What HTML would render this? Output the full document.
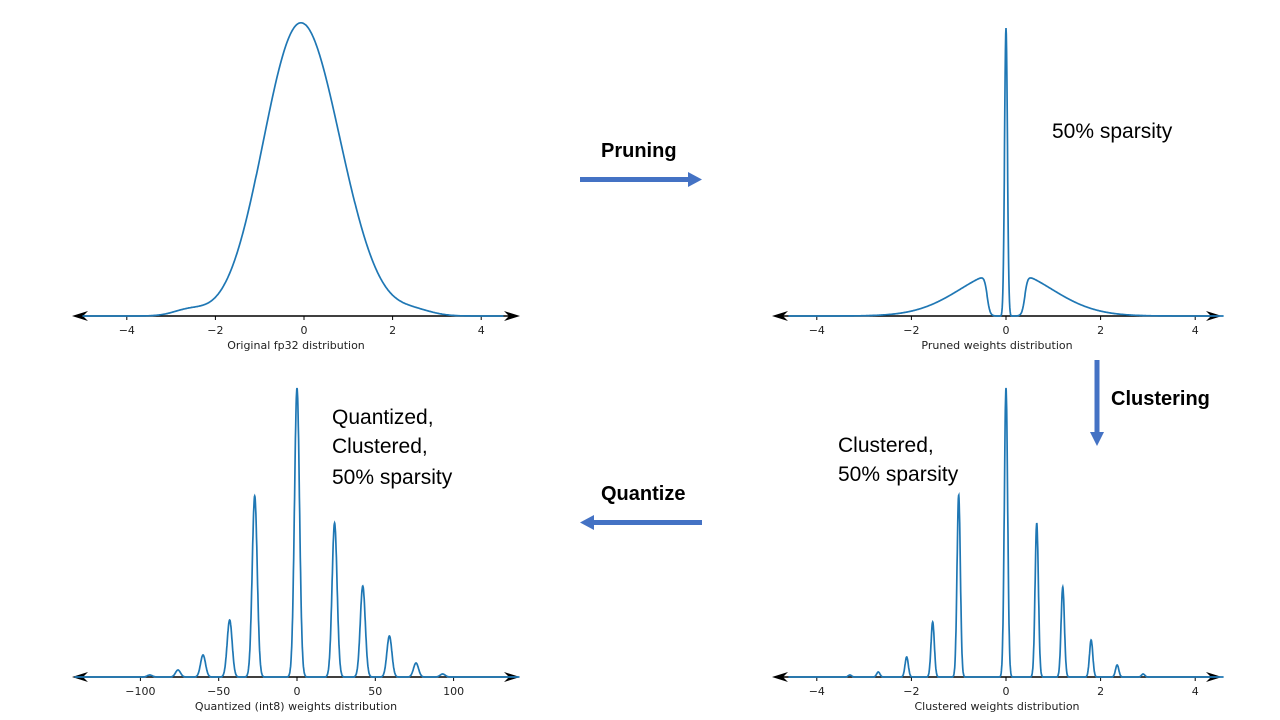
<!DOCTYPE html>
<html><head><meta charset="utf-8"><style>
html,body{margin:0;padding:0;background:#fff;width:1280px;height:720px;overflow:hidden}
svg{display:block}
text{font-family:"DejaVu Sans",sans-serif}
.t{font-family:"Liberation Sans",sans-serif;font-size:21px;fill:#000}
.b{font-family:"Liberation Sans",sans-serif;font-size:20px;font-weight:bold;fill:#000}
.tk{font-size:11px;fill:#222;text-anchor:middle}
</style></head><body>
<svg id="s" width="1280" height="720" xmlns="http://www.w3.org/2000/svg">
<g id="axes"></g>
<g id="curves" fill="none" stroke="#1f77b4" stroke-width="1.7"></g>
<text class="b" x="601" y="157">Pruning</text>
<rect x="580" y="177" width="110" height="5" fill="#4472C4"/>
<polygon points="688,172 702,179.5 688,187" fill="#4472C4"/>
<text class="b" x="601" y="500">Quantize</text>
<rect x="592" y="520" width="110" height="5" fill="#4472C4"/>
<polygon points="594,515 580,522.5 594,530" fill="#4472C4"/>
<text class="b" x="1111" y="405">Clustering</text>
<rect x="1094.5" y="360" width="5" height="74" fill="#4472C4"/>
<polygon points="1090,432 1104,432 1097,446" fill="#4472C4"/>
<text class="t" x="1052" y="138">50% sparsity</text>
<text class="t" x="332" y="424">Quantized,</text>
<text class="t" x="332" y="453">Clustered,</text>
<text class="t" x="332" y="484">50% sparsity</text>
<text class="t" x="838" y="452">Clustered,</text>
<text class="t" x="838" y="481">50% sparsity</text>
</svg>
<script>
var ax=document.getElementById('axes'),cv=document.getElementById('curves');
function axis(x0,x1,y,ticks,x2p,label){
 var h='<line x1="'+(x0+8)+'" y1="'+y+'" x2="'+(x1-8)+'" y2="'+y+'" stroke="#000" stroke-width="1.5"/>';
 h+='<polygon points="'+x0+','+y+' '+(x0+16)+','+(y-5)+' '+(x0+11)+','+y+' '+(x0+16)+','+(y+5)+'"/>';
 h+='<polygon points="'+x1+','+y+' '+(x1-16)+','+(y-5)+' '+(x1-11)+','+y+' '+(x1-16)+','+(y+5)+'"/>';
 ticks.forEach(function(t){var x=x2p(t);h+='<line x1="'+x+'" y1="'+y+'" x2="'+x+'" y2="'+(y+4)+'" stroke="#000"/>';
  h+='<text class="tk" x="'+x+'" y="'+(y+18)+'">'+(t<0?'\u2212'+(-t):t)+'</text>';});
 h+='<text class="tk" x="'+((x0+x1)/2)+'" y="'+(y+33)+'">'+label+'</text>';
 ax.innerHTML+=h;
}
function curve(xa,xb,y,x2p,f,n){
 var d='';for(var i=0;i<=n;i++){var v=xa+(xb-xa)*i/n;d+=(i?'L':'M')+x2p(v).toFixed(1)+','+(y-f(v)).toFixed(1);}
 cv.innerHTML+='<path d="'+d+'"/>';
}
function g(x,m,s){return Math.exp(-(x-m)*(x-m)/(2*s*s));}
var L=function(v){return 304+44.3*v;};
var R=function(v){return 1006+47.3*v;};
var Q=function(v){return 297+1.566*v;};
axis(72,520,316,[-4,-2,0,2,4],L,'Original fp32 distribution');
axis(772,1222,316,[-4,-2,0,2,4],R,'Pruned weights distribution');
axis(72,520,677,[-100,-50,0,50,100],Q,'Quantized (int8) weights distribution');
axis(772,1222,677,[-4,-2,0,2,4],R,'Clustered weights distribution');
curve(-5,4.5,316,L,function(v){return 165*g(v,-0.38,0.74)+160*g(v,0.32,0.8)+6*g(v,-2.6,0.35)+5*g(v,2.5,0.4);},600);
curve(-4.6,4.6,316,R,function(v){var a=Math.abs(v);var m=1/(1+Math.exp(-(a-0.4)/0.03));return 288*g(v,0,0.03)+45*g(v,0,0.95)*m;},1500);
var pk=[[0,289],[-1.0,182],[0.65,154],[-1.55,55],[1.2,90],[-2.1,20],[1.8,37],[-2.7,5],[2.35,12],[2.9,3],[-3.3,2]];
curve(-4.6,4.6,677,R,function(v){var s=0;pk.forEach(function(p){s+=p[1]*g(v,p[0],0.035);});return s;},2000);
var pq=[[0,289],[-27,181],[24,154],[-43,57],[42,91],[-60,22],[59,41],[-76,7],[76,14],[93,3],[-94,2]];
curve(-142,142,677,Q,function(v){var s=0;pq.forEach(function(p){s+=p[1]*g(v,p[0],1.6);});return s;},2000);
</script>
</body></html>
